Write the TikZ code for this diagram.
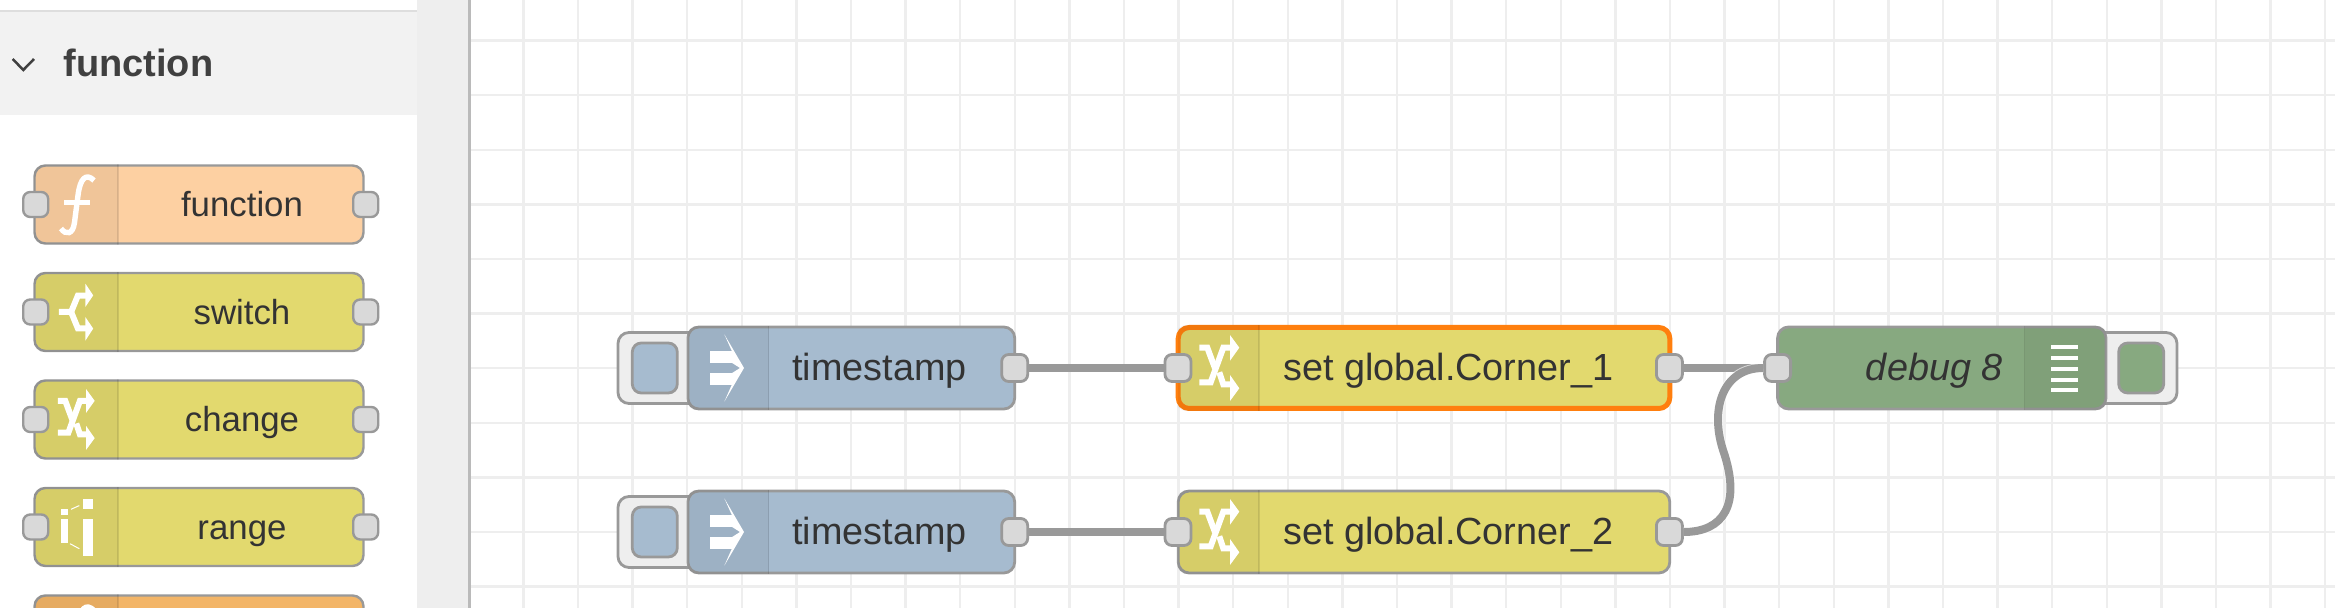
\documentclass[tikz,border=0pt]{standalone}
\usepackage{fontspec}
\setmainfont{Liberation Sans}
\definecolor{wirecol}{HTML}{999999}
\definecolor{portcol}{HTML}{D9D9D9}
\definecolor{fncol}{HTML}{FDD0A2}
\definecolor{chcol}{HTML}{E2D96E}
\definecolor{secol}{HTML}{F3B567}
\definecolor{tscol}{HTML}{A6BBCF}
\definecolor{dbcol}{HTML}{87A980}
\definecolor{selcol}{HTML}{FF7F0E}
\definecolor{gridcol}{HTML}{EEEEEE}
\definecolor{txtcol}{HTML}{333333}
\tikzset{
  fnicon/.pic={
    \draw[iconline,line width=2.7pt] (18,-24) .. controls (10,-32) and (4,-26) .. (2,-9) -- (-1.5,18) .. controls (-3,30) and (-10,31) .. (-15,24);
    \fill[white] (-12,-4.5) rectangle (14,0.5);
  },
  swicon/.pic={
    \draw[iconline] (-18.7,0) -- (-5.3,0) -- (2,-17.7) -- (11,-17.7);
    \draw[iconline] (-5.3,0) -- (2,17.7) -- (11,17.7);
    \fill[white] (10.3,-30.7) -- (18.7,-18) -- (10.3,-5.7) -- cycle;
    \fill[white] (10.3,5.7) -- (18.7,18) -- (10.3,31) -- cycle;
  },
  chicon/.pic={
    \draw[iconline] (-19.7,14.3) -- (-8.3,14.3) -- (4.3,-20.3) -- (12.7,-20.3);
    \draw[iconline] (-19.7,-20.3) -- (-11.7,-20.3) -- (-4,0.3);
    \draw[iconline] (0.3,4.3) -- (4.3,16.3) -- (12.7,16.3);
    \fill[white] (11,-33) -- (20.3,-20.3) -- (11,-7.3) -- cycle;
    \fill[white] (11,7) -- (20.3,20.3) -- (11,33) -- cycle;
  },
  rgicon/.pic={
    \fill[white] (6.7,-8.4) rectangle (16.7,28.6);
    \fill[white] (6.7,-28.4) rectangle (16.7,-18.4);
    \fill[white] (-15,-18.4) rectangle (-7.7,-12.4);
    \fill[white] (-15,-7.7) rectangle (-7.7,16);
    \draw[white,line width=.5pt] (-5,-17.7) -- (3.3,-21.4);
    \draw[white,line width=.5pt] (-6,16.7) -- (3.3,21.7);
  },
  tsicon/.pic={
    \fill[white] (-19,-17.3) rectangle (2.7,-5.3);
    \fill[white] (-19,5.3) rectangle (2.7,17);
    \fill[white] (-4.7,-33.7) -- (15,0) -- (-4.7,33.7) -- (2.7,17) -- (2.7,5.3) -- (11,0) -- (2.7,-5.3) -- (2.7,-17.3) -- cycle;
  }
}
\newcommand{\iconpart}[3]{
  \begin{scope}
    \clip[rounded corners=5.5pt] (#1.south west) rectangle (#1.north east);
    \fill[black,opacity=.05] (#2,0 |- #1.north) rectangle (#3,0 |- #1.south);
    \draw[black,opacity=.1,line width=.8pt] (#2,0 |- #1.north) -- (#2,0 |- #1.south);
  \end{scope}
}
\begin{document}
\begin{tikzpicture}[x=.5pt,y=-.5pt]
  \tikzstyle{iconline} = [draw=white,line width=3pt]
  \tikzstyle{gridline} = [draw=gridcol,line width=1.2pt]
  \tikzstyle{palbox} = [draw=wirecol,line width=1.2pt,rounded corners=5.5pt,minimum width=164.5pt,minimum height=39pt,inner sep=0pt]
  \tikzstyle{palport} = [draw=wirecol,fill=portcol,line width=1.2pt,rounded corners=3.5pt,minimum size=12.5pt,inner sep=0pt]
  \tikzstyle{palname} = [anchor=base,inner sep=0pt,text=txtcol,font=\fontsize{17.4}{20}\selectfont]
  \tikzstyle{flowbox} = [draw=wirecol,line width=1.4pt,rounded corners=5.5pt,minimum height=41pt,inner sep=0pt]
  \tikzstyle{selbox} = [draw=selcol,line width=2.5pt,rounded corners=5.5pt,minimum height=40.5pt,inner sep=0pt]
  \tikzstyle{port} = [draw=wirecol,fill=portcol,line width=1.4pt,rounded corners=3.5pt,minimum width=13pt,minimum height=13.5pt,inner sep=0pt]
  \tikzstyle{btnouter} = [draw=wirecol,fill=gridcol,line width=1.4pt,rounded corners=5.5pt,minimum width=41pt,minimum height=35.5pt,inner sep=0pt]
  \tikzstyle{btninner} = [draw=wirecol,line width=1.4pt,rounded corners=4.5pt,minimum width=22.5pt,minimum height=25pt,inner sep=0pt]
  \tikzstyle{flowname} = [inner sep=0pt,text=txtcol,font=\fontsize{18.9}{22}\selectfont]
  \tikzstyle{wire} = [draw=wirecol,line width=4pt]
  \useasboundingbox (0,0) rectangle (2335,608);

  % workspace grid
  \fill[white] (0,0) rectangle (2335,608);
  \foreach \k in {0,...,33}
    \draw[gridline] ({523.3+54.6*\k},0) -- ({523.3+54.6*\k},608);
  \foreach \k in {0,...,10}
    \draw[gridline] (470,{40.7+54.6*\k}) -- (2335,{40.7+54.6*\k});

  % palette
  \fill[gridcol] (417,0) rectangle (468,608);
  \fill[black!27] (468,0) rectangle (471,608);
  \fill[white] (0,0) rectangle (417,608);
  \fill[black!13] (0,10) rectangle (417,12);
  \fill[black!5] (0,12) rectangle (417,115);
  \draw[draw=black!75,line width=1.25pt] (12.7,59) -- (23.3,70) -- (34,59);
  \node[anchor=base west,inner sep=0pt,text=black!75,font=\fontsize{19}{22}\selectfont\bfseries] (title) at (63,77) {function};

  \foreach \nm/\y/\col/\txt in {fn/204.5/fncol/function,sw/312/chcol/switch,ch/419.5/chcol/change,rg/527/chcol/range}{
    \node[palbox,fill=\col] (\nm) at (199,\y) {};
    \iconpart{\nm}{118}{34}
    \node[palname] (\nm txt) at (242,\y+12.5) {\txt};
    \node[palport] (\nm l) at (35.7,\y) {};
    \node[palport] (\nm r) at (365.7,\y) {};
  }
  \node[palbox,fill=secol] (se) at (199,634.5) {};
  \iconpart{se}{118}{34}
  \pic at (76,204.5) {fnicon};
  \pic[scale=.92] at (76,312) {swicon};
  \pic[scale=.92] at (76,419.5) {chicon};
  \pic at (76,527) {rgicon};
  \pic at (76,634.5) {fnicon};

  % flow
  \node[btnouter] (b1) at (659,368) {};
  \node[btnouter] (b2) at (659,532) {};
  \node[btnouter] (b3) at (2136,368) {};
  \node[btninner,fill=tscol] (b1in) at (654.8,368) {};
  \node[btninner,fill=tscol] (b2in) at (654.8,532) {};
  \node[btninner,fill=dbcol] (b3in) at (2141.2,368) {};

  \node[flowbox,fill=tscol,minimum width=163.4pt] (n1) at (851.3,368) {};
  \node[flowbox,fill=tscol,minimum width=163.4pt] (n2) at (851.3,532) {};
  \node[selbox,fill=chcol,minimum width=245.8pt] (n3) at (1424,368) {};
  \node[flowbox,fill=chcol,minimum width=245.8pt] (n4) at (1424,532) {};
  \node[flowbox,fill=dbcol,minimum width=164.2pt] (n5) at (1941.8,368) {};

  \iconpart{n1}{768.6}{688}
  \iconpart{n2}{768.6}{688}
  \iconpart{n3}{1259}{1178}
  \iconpart{n4}{1259}{1178}
  \iconpart{n5}{2024.5}{2106}

  \pic at (729,368) {tsicon};
  \pic at (729,532) {tsicon};
  \pic at (1219,368) {chicon};
  \pic at (1219,532) {chicon};
  \foreach \y in {346.7,357.7,368.7,379.7,390.3}
    \fill[white] (2051,\y-2) rectangle (2078.4,\y+2);

  \node[flowname,anchor=base west] (n1txt) at (791.8,380.5) {timestamp};
  \node[flowname,anchor=base west] (n2txt) at (791.8,544.5) {timestamp};
  \node[flowname,anchor=base west] (n3txt) at (1283,380.5) {set global.Corner\_1};
  \node[flowname,anchor=base west] (n4txt) at (1283,544.5) {set global.Corner\_2};
  \node[flowname,anchor=base east,font=\fontsize{18.9}{22}\selectfont\itshape] (n5txt) at (2003,380.5) {debug 8};

  \node[port] (p1) at (1014.7,368) {};
  \node[port] (p2) at (1014.7,532) {};
  \node[port] (p3) at (1178,368) {};
  \node[port] (p4) at (1178,532) {};
  \node[port] (p5) at (1669.4,368) {};
  \node[port] (p6) at (1669.4,532) {};
  \node[port] (p7) at (1777.6,368) {};

  \foreach \from/\to in {p1/p3,p2/p4,p5/p7}
    \draw[wire] (\from) -- (\to);
  \draw[draw=white,line width=5pt,opacity=.6] (p6) .. controls (1723,532) and (1742,505) .. (1723,450) .. controls (1710,410) and (1722,368) .. (p7);
  \draw[wire] (p6) .. controls (1723,532) and (1742,505) .. (1723,450) .. controls (1710,410) and (1722,368) .. (p7);
\end{tikzpicture}
\end{document}
